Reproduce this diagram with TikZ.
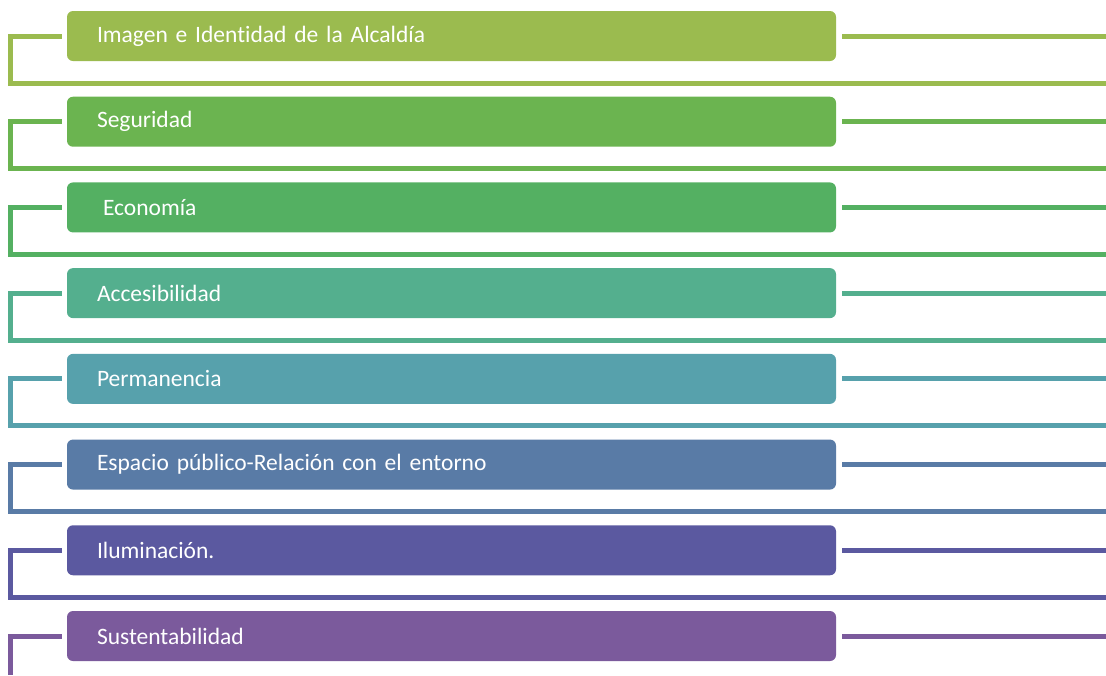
\documentclass[tikz,border=0pt]{standalone}
\usepackage{fontspec}
\setmainfont{Carlito}[Ligatures=NoCommon, WordSpace=0.75]
\usetikzlibrary{positioning}

\definecolor{tema1}{RGB}{155,187,79}
\definecolor{tema2}{RGB}{107,180,80}
\definecolor{tema3}{RGB}{84,176,98}
\definecolor{tema4}{RGB}{84,175,142}
\definecolor{tema5}{RGB}{87,161,172}
\definecolor{tema6}{RGB}{89,123,166}
\definecolor{tema7}{RGB}{91,89,160}
\definecolor{tema8}{RGB}{123,90,156}

\tikzset{
  barra/.style={rounded corners=6pt, minimum height=50pt, text width=709pt,
    inner xsep=30pt, inner ysep=0pt, align=left, text=white,
    font=\fontsize{23.5}{27}\selectfont},
  linea/.style={line width=5pt}
}

\begin{document}
\begin{tikzpicture}[x=1pt,y=-1pt]
\useasboundingbox (0,0) rectangle (1106,675);
\foreach \texto [count=\i] in {Imagen e Identidad de la Alcaldía, Seguridad,
    \hspace{6pt}Economía, Accesibilidad, Permanencia,
    Espacio público-Relación con el entorno, Iluminación., Sustentabilidad}
{
  \pgfmathsetmacro\yc{36+(\i-1)*85.714}
  \pgfmathsetmacro\yb{\yc+47}
  \node[barra, fill=tema\i] (b\i) at (451.5,\yc) {\texto};
  \coordinate (l\i) at ([xshift=-5pt]b\i.west);
  \coordinate (r\i) at ([xshift=6pt]b\i.east);
  \coordinate (d\i) at (1106,\yc);
  % brazo derecho
  \draw[linea, draw=tema\i] (r\i) -- (d\i);
  % brazo izquierdo
  \ifnum\i<8
    \coordinate (f\i) at (10,\yb);
    \coordinate (e\i) at (1106,\yb);
    \draw[linea, draw=tema\i] (l\i) -| (f\i) -- (e\i);
  \else
    \coordinate (f\i) at (10,675);
    \draw[linea, draw=tema\i] (l\i) -| (f\i);
  \fi
}
\end{tikzpicture}
\end{document}
